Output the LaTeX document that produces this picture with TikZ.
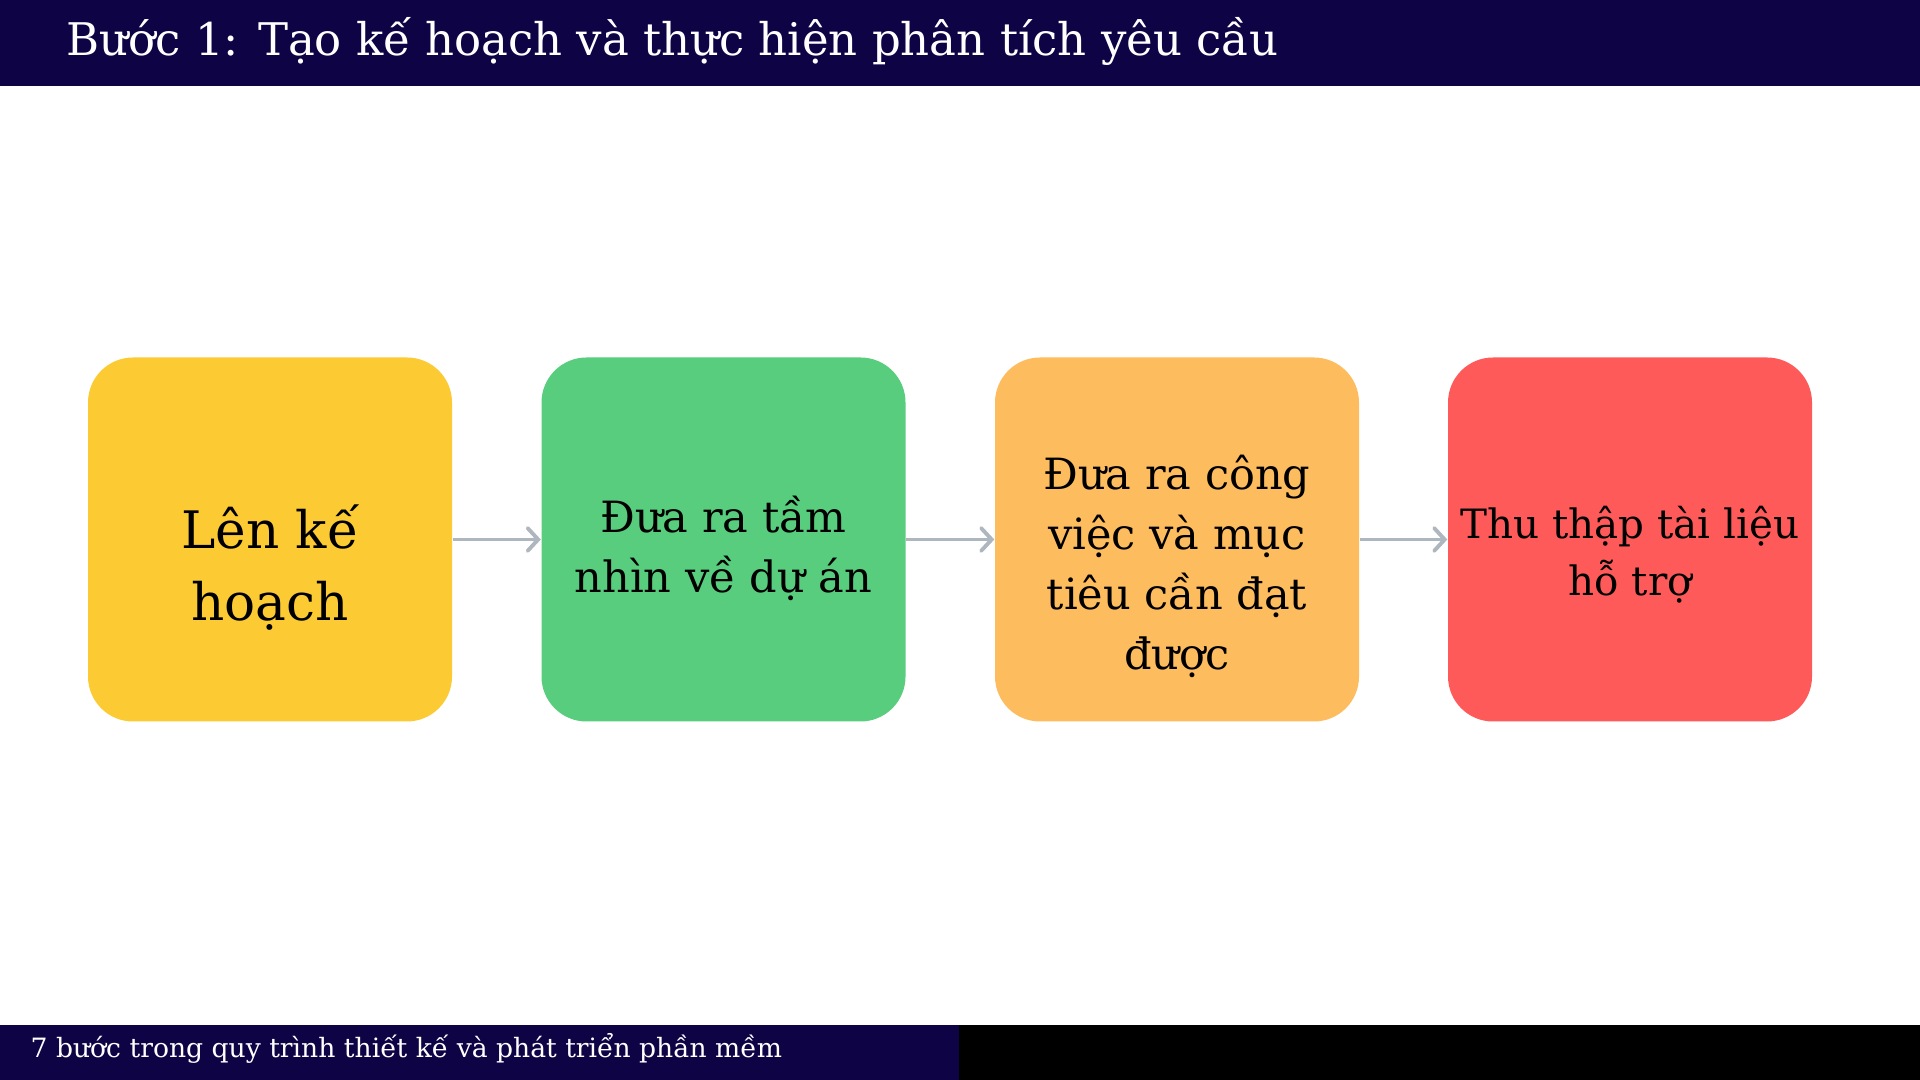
\documentclass[tikz,border=0pt]{standalone}
\usepackage{fontspec}
\setmainfont{DejaVu Serif}
\usepackage{xcolor}
\usetikzlibrary{arrows.meta}
\definecolor{navy}{HTML}{0D0345}
\definecolor{planYellow}{HTML}{FCCA32}
\definecolor{visionGreen}{HTML}{58CD7D}
\definecolor{goalOrange}{HTML}{FDBD5E}
\definecolor{docsRed}{HTML}{FF5A5A}
\definecolor{arrowGray}{HTML}{AEB6BF}
\tikzset{ stage_box/.style = {rectangle, rounded corners=0.45cm, minimum width=3.64cm, minimum height=3.64cm, inner sep=0pt} }
\tikzset{ stage_text/.style = {align=center, text=black, inner sep=0pt, font=\fontsize{12.25}{17}\selectfont} }
\tikzset{ flow/.style = {draw=arrowGray, line width=0.9pt, -{Straight Barb[length=3pt,width=6.5pt,line width=1.1pt,line cap=round]}} }

\begin{document}
\begin{tikzpicture}
    \useasboundingbox (0,0) rectangle (19.2,10.8);
    % header and footer bars
    \fill[navy] (0,9.94) rectangle (19.2,10.8);
    \fill[navy] (0,0) rectangle (9.59,0.55);
    \fill[black] (9.59,0) rectangle (19.2,0.55);
    \node[anchor=base west, text=white, inner sep=0pt, font=\fontsize{12.8}{15}\selectfont] (title) at (0.66,10.24) {Bước 1: Tạo kế hoạch và thực hiện phân tích yêu cầu};
    \node[anchor=base west, text=white, inner sep=0pt, font=\fontsize{7.57}{9}\selectfont] (footer) at (0.30,0.22) {7 bước trong quy trình thiết kế và phát triển phần mềm};
    % the four stages
    \node[stage_box, fill=planYellow] (A) at (2.70,5.405) {};
    \node[stage_box, fill=visionGreen] (B) at (7.235,5.405) {};
    \node[stage_box, fill=goalOrange] (C) at (11.77,5.405) {};
    \node[stage_box, fill=docsRed] (D) at (16.30,5.405) {};
    \node[stage_text, font=\fontsize{14.7}{20.5}\selectfont] (Atext) at ([yshift=-0.28cm]A.center) {Lên kế\\hoạch};
    \node[stage_text] (Btext) at ([yshift=-0.09cm]B.center) {Đưa ra tầm\\nhìn về dự án};
    \node[stage_text] (Ctext) at ([yshift=-0.27cm]C.center) {Đưa ra công\\việc và mục\\tiêu cần đạt\\được};
    \node[stage_text, font=\fontsize{11.5}{16.2}\selectfont] (Dtext) at ([yshift=-0.15cm]D.center) {Thu thập tài liệu\\hỗ trợ};
    \draw[flow] (A) -- (B);
    \draw[flow] (B) -- (C);
    \draw[flow] (C) -- (D);
\end{tikzpicture}
\end{document}
